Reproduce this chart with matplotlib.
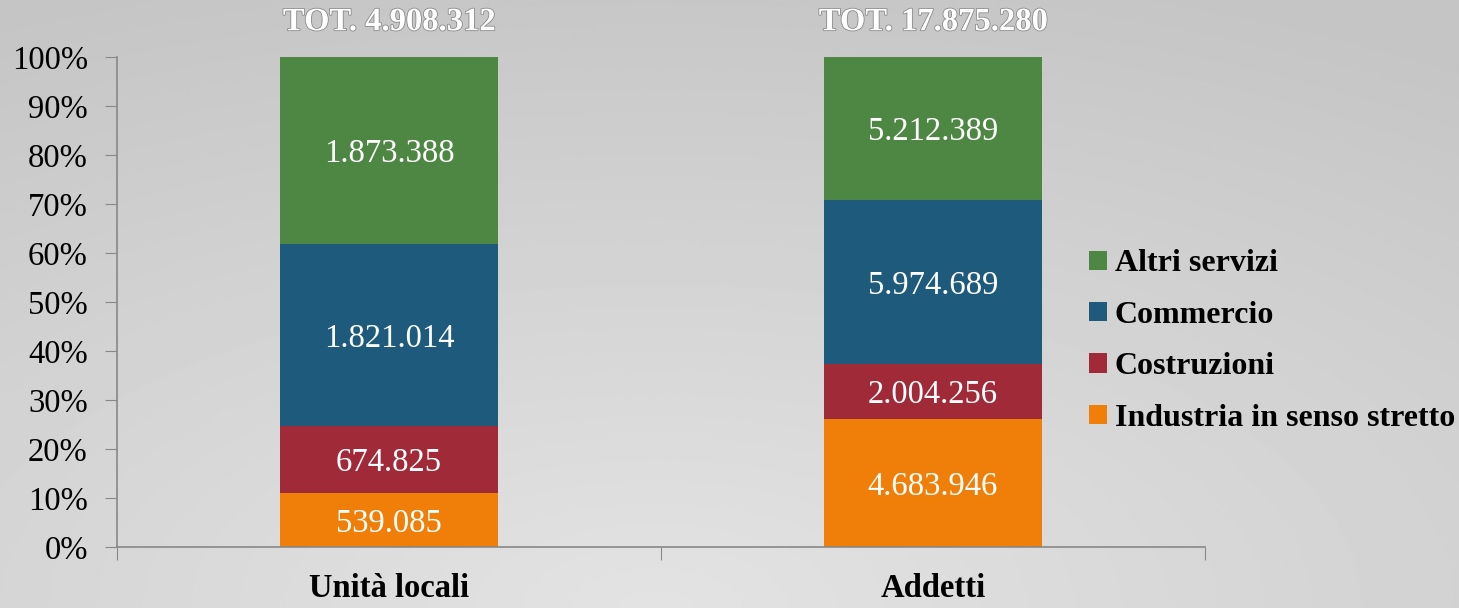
import numpy as np
import matplotlib
matplotlib.use("Agg")
import matplotlib.pyplot as plt
import matplotlib.patheffects as pe

categories = ["Unità locali", "Addetti"]
series_names = ["Industria in senso stretto", "Costruzioni", "Commercio", "Altri servizi"]
industria = [539085, 4683946]
costruzioni = [674825, 2004256]
commercio = [1821014, 5974689]
altri = [1873388, 5212389]
totals_labels = ["TOT. 4.908.312", "TOT. 17.875.280"]
colors = ["#f07f09", "#a12a38", "#1e5a7b", "#4e8743"]

def fmt(v):
    return f"{v:,}".replace(",", ".")

plt.rcParams['font.family'] = ['Liberation Serif', 'DejaVu Serif']

fig = plt.figure(figsize=(14.59, 6.08), dpi=100)
# background gradient
bg = fig.add_axes([0, 0, 1, 1], zorder=-10)
yy, xx = np.mgrid[0:1:300j, 0:1:700j]
r = np.sqrt(((xx - 0.45) / 1.0) ** 2 + ((yy - 0.0) / 1.1) ** 2)
g = 0.89 - 0.12 * np.clip(r, 0, 1)
bg.imshow(g, cmap="gray", vmin=0, vmax=1, aspect="auto", origin="lower", extent=[0, 1, 0, 1])
bg.axis("off")

ax = fig.add_axes([117 / 1459, 1 - 547 / 608, (1205 - 117) / 1459, (547 - 57) / 608])
ax.patch.set_alpha(0)

data = [industria, costruzioni, commercio, altri]
tot = np.array(industria) + np.array(costruzioni) + np.array(commercio) + np.array(altri)
x = np.arange(len(categories))
bottom = np.zeros(len(categories))
handles = []
for name, vals, c in zip(series_names, data, colors):
    pct = np.array(vals) / tot * 100
    b = ax.bar(x, pct, 0.4, bottom=bottom, color=c, label=name, zorder=2)
    handles.append(b)
    for xi, p, bt, v in zip(x, pct, bottom, vals):
        ax.text(xi, bt + p / 2, fmt(v), ha="center", va="center_baseline", color="white", fontsize=23.5, zorder=3)
    bottom = bottom + pct

for xi, t in zip(x, totals_labels):
    ax.text(xi, 107.2, t, ha="center", va="center", color="white", fontsize=23.5, fontweight="bold",
            path_effects=[pe.withStroke(linewidth=1.2, foreground="#8a8a8a")], clip_on=False)

ax.set_xlim(-0.5, 1.5)
ax.set_ylim(0, 100)
ax.set_yticks(np.arange(0, 101, 10))
ax.set_yticklabels([f"{v}%" for v in range(0, 101, 10)], fontsize=23.5)
ax.set_xticks([-0.5, 0.5, 1.5], minor=False)
ax.set_xticklabels(["", "", ""])
ax.set_xticks(x, minor=True)
ax.set_xticklabels(categories, minor=True, fontsize=23.5, fontweight="bold")
ax.tick_params(axis="x", which="minor", length=0, pad=19)
ax.tick_params(axis="x", which="major", length=9, direction="out", color="#888888")
ax.tick_params(axis="y", length=9, direction="out", color="#888888", pad=12)
for s in ["top", "right"]:
    ax.spines[s].set_visible(False)
for s in ["left", "bottom"]:
    ax.spines[s].set_color("#888888")
    ax.spines[s].set_linewidth(1.2)

leg = fig.legend(handles[::-1], series_names[::-1], loc="center left",
                 bbox_to_anchor=(1089 / 1459, 1 - 341 / 608), frameon=False,
                 prop={"size": 23, "weight": "bold"}, handlelength=0.55, handleheight=0.55,
                 handletextpad=0.25, labelspacing=0.7, borderaxespad=0, borderpad=0)

fig.savefig("out.png", dpi=100)
